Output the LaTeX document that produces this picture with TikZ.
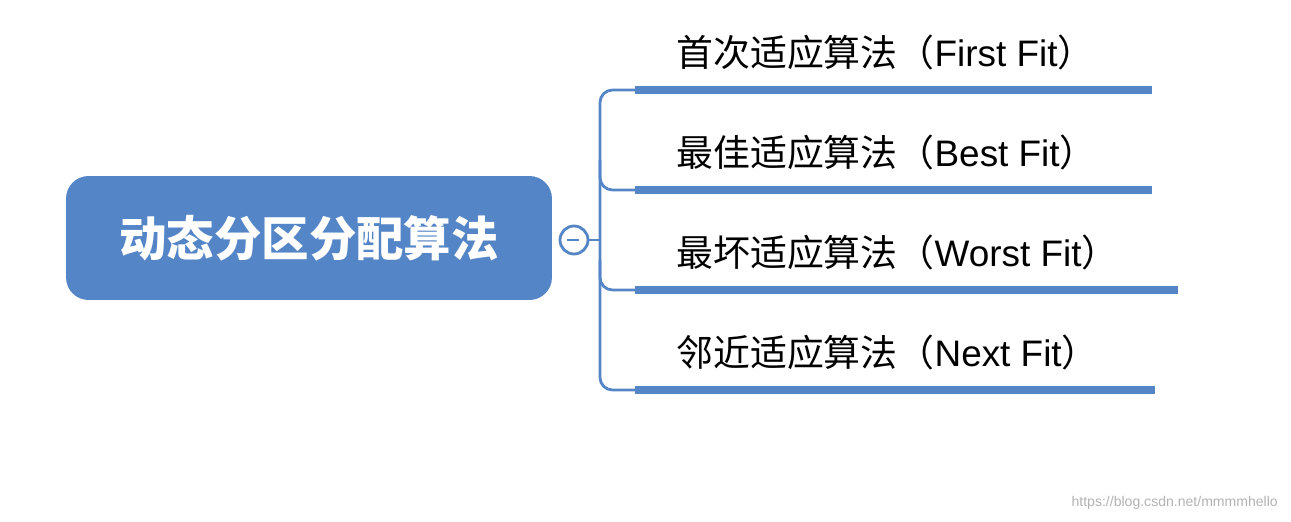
\documentclass[tikz,border=0pt]{standalone}
\usepackage{fontspec}
\setmainfont{Liberation Sans}
\newfontfamily\cjk{Noto Sans CJK SC}
\definecolor{mblue}{HTML}{5485C6}
\begin{document}
\begin{tikzpicture}[x=0.02cm,y=-0.02cm,
  branch/.style={line width=1.6pt,draw=mblue},
  uline/.style={line width=4pt,draw=mblue},
  lbl/.style={anchor=west,font=\fontsize{21}{24}\selectfont,inner sep=0pt}]
\useasboundingbox (0,0) rectangle (1291,521);
\node[fill=mblue,rounded corners=0.45cm,minimum width=9.72cm,minimum height=2.48cm,
  text=white,font=\fontsize{27}{30}\selectfont\cjk\bfseries] (root) at (309,238) {动态分区分配算法};
\node[circle,draw=mblue,line width=1.6pt,fill=white,minimum size=0.56cm,inner sep=0pt] (col) at (574,240) {};
\draw[mblue,line width=1.2pt] (col.west) ++(8,0) coordinate (m1) -- ++(12,0);
\coordinate (j) at (600,240);
\draw[branch] (col.east) -- (j);
\foreach \y/\e/\c/\t/\n in {90/1152/首次适应算法/First Fit/a,190/1152/最佳适应算法/Best Fit/b,290/1178/最坏适应算法/Worst Fit/c,390/1155/邻近适应算法/Next Fit/d}{
  \coordinate (s\n) at (635,\y);
  \coordinate (e\n) at (\e,\y);
  \draw[uline] (s\n) -- (e\n);
  \node[lbl] (t\n) at (676,\y-38) {{\cjk \c（}\t{\cjk ）}};
}
\draw[branch,rounded corners=0.25cm] (sa) -- (600,90) -- (600,390) -- (sd);
\draw[branch,rounded corners=0.25cm] (600,160) |- (sb);
\draw[branch,rounded corners=0.25cm] (600,260) |- (sc);
\node[anchor=east,text=gray!60,font=\fontsize{8}{10}\selectfont] (wm) at (1284,503) {https://blog.csdn.net/mmmmhello};
\end{tikzpicture}
\end{document}
